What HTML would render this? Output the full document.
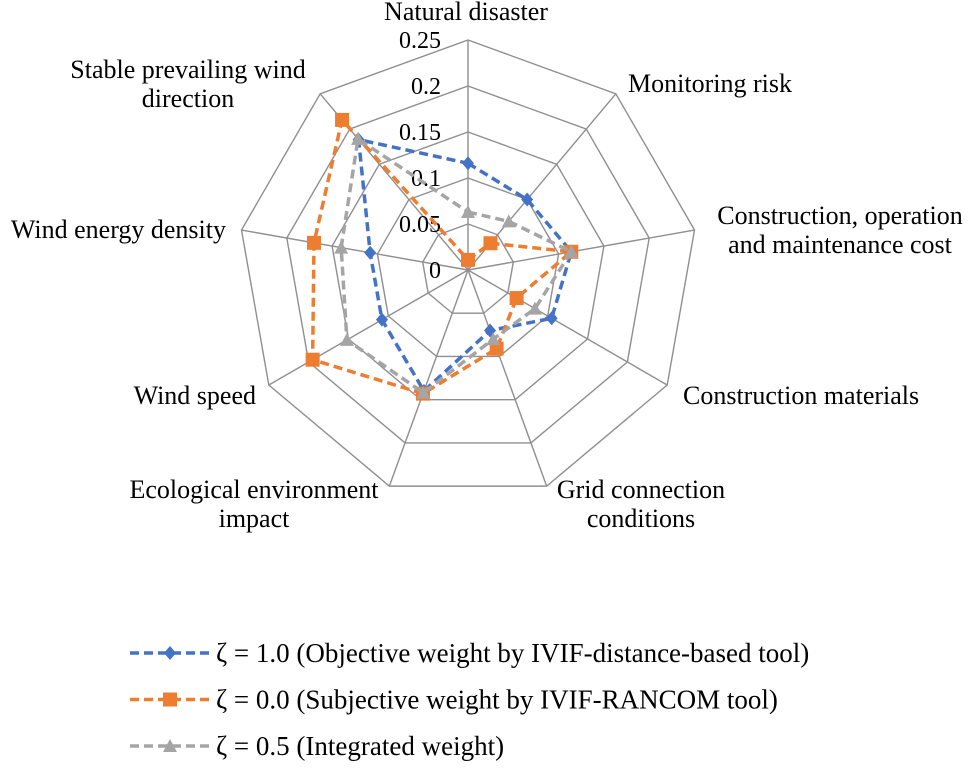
<!DOCTYPE html>
<html><head><meta charset="utf-8"><style>
body{margin:0;background:#fff}
svg text{font-family:"Liberation Serif",serif;fill:#000}
</style></head><body>
<svg id="chart" width="969" height="764" viewBox="0 0 969 764">
<g id="grid"></g>
<g id="ticks"></g>
<g id="cats"></g>
<g id="series"></g>
<g id="legend"></g>
</svg>
<script>
const categories=["Natural disaster","Monitoring risk","Construction, operation and maintenance cost","Construction materials","Grid connection conditions","Ecological environment impact","Wind speed","Wind energy density","Stable prevailing wind direction"];
const objectiveWeights=[0.116,0.10,0.114,0.105,0.07,0.14,0.108,0.108,0.185];
const subjectiveWeights=[0.011,0.038,0.114,0.061,0.091,0.143,0.195,0.17,0.213];
const integratedWeights=[0.063,0.069,0.114,0.084,0.08,0.142,0.152,0.14,0.186];
const tickValues=[0,0.05,0.1,0.15,0.2,0.25];
const tickLabels=["0","0.05","0.1","0.15","0.2","0.25"];
const seriesNames=["ζ = 1.0 (Objective weight by IVIF-distance-based tool)","ζ = 0.0 (Subjective weight by IVIF-RANCOM tool)","ζ = 0.5 (Integrated weight)"];

const NS="http://www.w3.org/2000/svg";
const cx=468,cy=270,R=230,maxV=0.25;
function rScale(v){return v/maxV*R;}
function pt(i,v){const a=i*2*Math.PI/categories.length;return [cx+rScale(v)*Math.sin(a),cy-rScale(v)*Math.cos(a)];}
function mk(tag,attrs,parent){const e=document.createElementNS(NS,tag);for(const k in attrs)e.setAttribute(k,attrs[k]);parent.appendChild(e);return e;}
const grid=document.getElementById('grid');
tickValues.forEach((t,j)=>{if(t===0)return;
 const p=mk('polygon',{points:categories.map((c,i)=>pt(i,t).join(',')).join(' '),fill:'none',stroke:'#8f8f8f','stroke-width':1.4},grid);
 
 
});
categories.forEach((c,i)=>{const [x,y]=pt(i,maxV);
 const l=mk('line',{x1:cx,y1:cy,x2:x,y2:y,stroke:'#8f8f8f','stroke-width':1.4},grid);
 
 
});
const ticks=document.getElementById('ticks');
tickValues.forEach((t,j)=>{const e=mk('text',{x:cx-27,y:cy-rScale(t)+8,'text-anchor':'end','font-size':24},ticks);e.textContent=tickLabels[j];
 
 
});
const catPos=[[466,20,'middle',["Natural disaster"]],[628,92,'start',["Monitoring risk"]],[840,224,'middle',["Construction, operation","and maintenance  cost"]],[683,404,'start',["Construction materials"]],[641,498,'middle',["Grid connection","conditions"]],[254,498,'middle',["Ecological environment","impact"]],[256,404,'end',["Wind speed"]],[226,238,'end',["Wind energy density"]],[188,78,'middle',["Stable prevailing wind","direction"]]];
const cats=document.getElementById('cats');
catPos.forEach((c,i)=>{const e=mk('text',{x:c[0],y:c[1],'text-anchor':c[2],'font-size':26},cats);
 
 
 c[3].forEach((s,k)=>{const ts=mk('tspan',{x:c[0],dy:k?29:0},e);ts.textContent=s;});
});
const colors=['#4472C4','#ED7D31','#A5A5A5'];
const data=[objectiveWeights,subjectiveWeights,integratedWeights];
const series=document.getElementById('series');
function marker(type,x,y,col,g){
 let m;
 if(type===0)m=mk('polygon',{points:`${x},${y-7} ${x+6},${y} ${x},${y+7} ${x-6},${y}`,fill:col},g);
 else if(type===1)m=mk('rect',{x:x-7,y:y-7,width:14,height:14,fill:col},g);
 else m=mk('polygon',{points:`${x},${y-7} ${x+7},${y+6} ${x-7},${y+6}`,fill:col},g);
 
 
}
data.forEach((vals,s)=>{
 const g=mk('g',{},series);
 
 
 const pts=vals.map((v,i)=>pt(i,v));
 const p=mk('polygon',{points:pts.map(q=>q.join(',')).join(' '),fill:'none',stroke:colors[s],'stroke-width':3.5,'stroke-dasharray':'9,5'},g);
 
 
 pts.forEach(q=>marker(s,q[0],q[1],colors[s],g));
});
const legend=document.getElementById('legend');
seriesNames.forEach((n,s)=>{const y=653+s*46.5;
 const g=mk('g',{},legend);
 
 
 const l=mk('line',{x1:130,y1:y,x2:210,y2:y,stroke:colors[s],'stroke-width':3.5,'stroke-dasharray':'9,5'},g);
 
 
 marker(s,170,y,colors[s],g);
 const t=mk('text',{x:216,y:y+9,'font-size':27},g);t.textContent=n;
 
 
});
</script>
</body></html>
